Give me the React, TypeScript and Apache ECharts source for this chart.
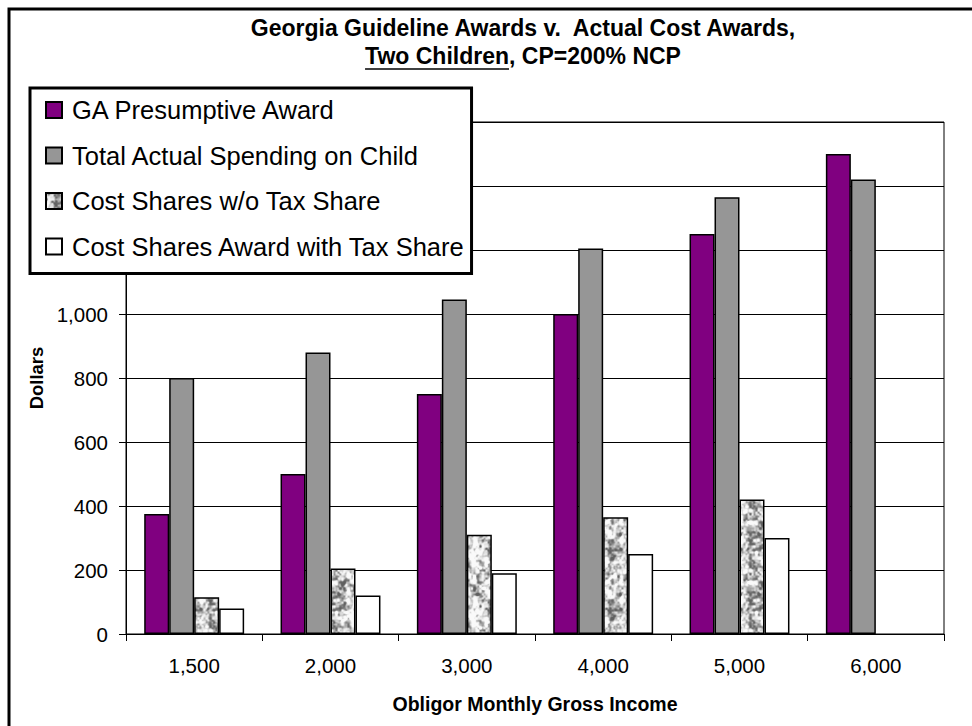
import React, { useEffect, useRef } from "react";
import * as echarts from "echarts";

// Obligor monthly gross income levels (category axis)
const incomeLevels = ["1,500", "2,000", "3,000", "4,000", "5,000", "6,000"];

// Monthly dollar amounts per income level
const gaPresumptive = [375, 500, 750, 1000, 1250, 1500];
const totalSpending = [800, 880, 1045, 1205, 1365, 1420];
const costSharesNoTax: (number | null)[] = [115, 205, 310, 365, 420, null];
const costSharesWithTax: (number | null)[] = [80, 120, 190, 250, 300, null];

const seriesNames = [
  "GA Presumptive Award",
  "Total Actual Spending on Child",
  "Cost Shares w/o Tax Share",
  "Cost Shares Award with Tax Share",
];

const titleLine1 = "Georgia Guideline Awards v.  Actual Cost Awards,";
const titleUnderlined = "Two Children";
const titleRest = ", CP=200% NCP";

const Y_MAX = 1600;
const Y_STEP = 200;
const LAST_LABELED_TICK = 1000;

const FONT = 'Arial, "Liberation Sans", Helvetica, sans-serif';

// Seamless granite-like tile used as the fill of the "w/o Tax Share" bars.
function makeGraniteTile(): HTMLCanvasElement {
  const size = 60;
  const canvas = document.createElement("canvas");
  canvas.width = size;
  canvas.height = size;
  const ctx = canvas.getContext("2d")!;
  const img = ctx.createImageData(size, size);
  const hash = (x: number, y: number, seed: number) => {
    const s = Math.sin(x * 127.1 + y * 311.7 + seed * 74.7) * 43758.5453;
    return s - Math.floor(s);
  };
  const smooth = (t: number) => t * t * (3 - 2 * t);
  const noise = (px: number, py: number, cells: number, seed: number) => {
    const cs = size / cells;
    const fx = px / cs;
    const fy = py / cs;
    const i0 = Math.floor(fx);
    const j0 = Math.floor(fy);
    const tx = smooth(fx - i0);
    const ty = smooth(fy - j0);
    const at = (i: number, j: number) =>
      hash(((i % cells) + cells) % cells, ((j % cells) + cells) % cells, seed);
    const a = at(i0, j0);
    const b = at(i0 + 1, j0);
    const c = at(i0, j0 + 1);
    const d = at(i0 + 1, j0 + 1);
    return (a * (1 - tx) + b * tx) * (1 - ty) + (c * (1 - tx) + d * tx) * ty;
  };
  const ramp = (e0: number, e1: number, v: number) => {
    const t = Math.max(0, Math.min(1, (v - e0) / (e1 - e0)));
    return t * t * (3 - 2 * t);
  };
  for (let y = 0; y < size; y++) {
    for (let x = 0; x < size; x++) {
      const n =
        0.4 * noise(x, y, 10, 1) + 0.35 * noise(x, y, 20, 2) + 0.25 * noise(x, y, 30, 3);
      const g = Math.round(95 + 155 * ramp(0.2, 0.68, n));
      const k = (y * size + x) * 4;
      img.data[k] = g;
      img.data[k + 1] = g;
      img.data[k + 2] = g;
      img.data[k + 3] = 255;
    }
  }
  ctx.putImageData(img, 0, 0);
  return canvas;
}

function textWidth(text: string, font: string): number {
  const ctx = document.createElement("canvas").getContext("2d")!;
  ctx.font = font;
  return ctx.measureText(text).width;
}

export default function App() {
  const ref = useRef<HTMLDivElement>(null);

  useEffect(() => {
    if (!ref.current) return;
    const chart = echarts.init(ref.current, undefined, { renderer: "svg" });

    const granite = { image: makeGraniteTile(), repeat: "repeat" };

    const titleSize = 23;
    const titleFont = `bold ${titleSize}px ${FONT}`;
    const titleCenterX = 523;
    const wUnder = textWidth(titleUnderlined, titleFont);
    const wRest = textWidth(titleRest, titleFont);
    const line2Left = titleCenterX - (wUnder + wRest) / 2;

    const barBorder = { borderColor: "#000", borderWidth: 1.5 };

    chart.setOption({
      animation: false,
      backgroundColor: "#fff",
      textStyle: { fontFamily: FONT, color: "#000" },
      graphic: [
        {
          type: "rect",
          z: 100,
          silent: true,
          shape: { x: 9, y: 9, width: 1200, height: 1200 },
          style: { fill: "none", stroke: "#000", lineWidth: 3 },
        },
        {
          type: "text",
          x: titleCenterX,
          y: 28,
          style: {
            text: titleLine1,
            fontSize: titleSize,
            fontWeight: "bold",
            fontFamily: FONT,
            fill: "#000",
            align: "center",
            verticalAlign: "middle",
          },
        },
        {
          type: "text",
          x: line2Left,
          y: 56,
          style: {
            text: titleUnderlined,
            fontSize: titleSize,
            fontWeight: "bold",
            fontFamily: FONT,
            fill: "#000",
            align: "left",
            verticalAlign: "middle",
          },
        },
        {
          type: "text",
          x: line2Left + wUnder,
          y: 56,
          style: {
            text: titleRest,
            fontSize: titleSize,
            fontWeight: "bold",
            fontFamily: FONT,
            fill: "#000",
            align: "left",
            verticalAlign: "middle",
          },
        },
        {
          type: "line",
          shape: { x1: line2Left, y1: 69, x2: line2Left + wUnder, y2: 69 },
          style: { stroke: "#000", lineWidth: 1.6 },
        },
      ],
      grid: {
        left: 126,
        right: 28,
        top: 122,
        bottom: 92,
        show: true,
        borderColor: "#000",
        borderWidth: 1,
        backgroundColor: "#fff",
      },
      legend: {
        orient: "vertical",
        left: 30,
        top: 88,
        padding: [9, 6, 14, 15],
        itemGap: 19.5,
        itemWidth: 16,
        itemHeight: 16,
        icon: "rect",
        selectedMode: false,
        backgroundColor: "#fff",
        borderColor: "#000",
        borderWidth: 3,
        borderRadius: 0,
        textStyle: {
          fontSize: 25.5,
          lineHeight: 26,
          color: "#000",
          fontFamily: FONT,
          padding: [0, 0, 0, 5],
        },
        data: seriesNames,
      },
      xAxis: {
        type: "category",
        data: incomeLevels,
        axisLine: { lineStyle: { color: "#000", width: 1 } },
        axisTick: { show: true, length: 7, lineStyle: { color: "#000" } },
        axisLabel: { margin: 21, fontSize: 20.5, color: "#000", fontFamily: FONT },
        name: "Obligor Monthly Gross Income",
        nameLocation: "middle",
        nameGap: 60,
        nameTextStyle: { fontSize: 19.5, fontWeight: "bold", color: "#000", fontFamily: FONT },
      },
      yAxis: {
        type: "value",
        min: 0,
        max: Y_MAX,
        interval: Y_STEP,
        axisLine: { show: true, lineStyle: { color: "#000", width: 1 } },
        axisTick: { show: true, length: 7, lineStyle: { color: "#000" } },
        axisLabel: {
          margin: 18,
          fontSize: 20.5,
          color: "#000",
          fontFamily: FONT,
          formatter: (v: number) => (v > LAST_LABELED_TICK ? "" : v.toLocaleString("en-US")),
        },
        splitLine: { show: true, lineStyle: { color: "#000", width: 1 } },
        name: "Dollars",
        nameLocation: "middle",
        nameGap: 76,
        nameTextStyle: { fontSize: 18.5, fontWeight: "bold", color: "#000", fontFamily: FONT },
      },
      series: [
        {
          name: seriesNames[0],
          type: "bar",
          data: gaPresumptive,
          barGap: "0%",
          barCategoryGap: "26.7%",
          itemStyle: { color: "#800080", ...barBorder },
        },
        {
          name: seriesNames[1],
          type: "bar",
          data: totalSpending,
          itemStyle: { color: "#969696", ...barBorder },
        },
        {
          name: seriesNames[2],
          type: "bar",
          data: costSharesNoTax,
          itemStyle: { color: granite, ...barBorder },
        },
        {
          name: seriesNames[3],
          type: "bar",
          data: costSharesWithTax,
          itemStyle: { color: "#fff", ...barBorder },
        },
      ],
    });

    return () => chart.dispose();
  }, []);

  return (
    <div
      ref={ref}
      style={{ position: "absolute", left: 0, top: 0, width: 972, height: 726 }}
    />
  );
}
